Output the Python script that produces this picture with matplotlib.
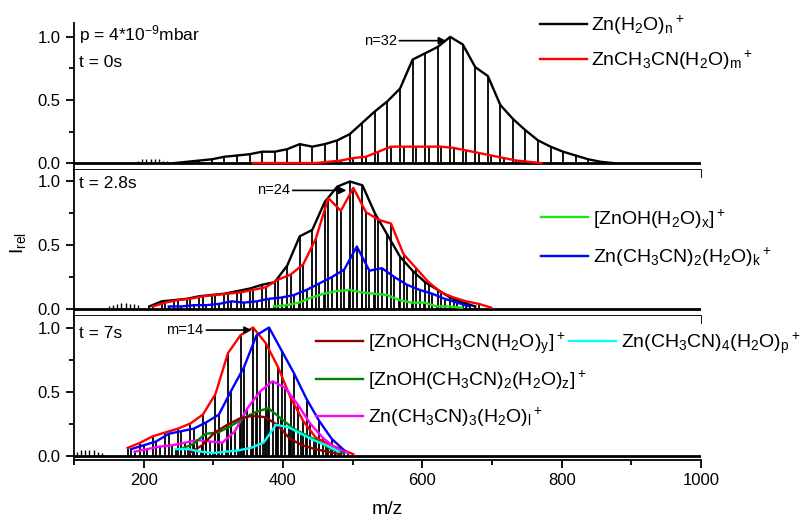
import numpy as np
import matplotlib
matplotlib.use('Agg')
import matplotlib.pyplot as plt
from matplotlib.ticker import MultipleLocator, FormatStrFormatter

plt.rcParams.update({'font.family': 'Liberation Sans', 'mathtext.default': 'regular',
                     'font.size': 12})

# t = 0 s : Zn(H2O)n+  (n = 10..45) and ZnCH3CN(H2O)m+ (m = 14..37)
top_k_mz = [244, 262, 280, 298, 316, 334, 352, 370, 388, 406, 424, 442, 460, 478, 496, 514,
            532, 550, 568, 586, 604, 622, 640, 658, 676, 694, 712, 730, 748, 766, 784, 802,
            820, 838, 856, 874]
top_k_int = [0.0, 0.01, 0.02, 0.03, 0.05, 0.06, 0.07, 0.09, 0.09, 0.11, 0.15, 0.13, 0.15, 0.18,
             0.23, 0.32, 0.41, 0.49, 0.59, 0.82, 0.87, 0.92, 1.0, 0.94, 0.76, 0.69, 0.46, 0.35,
             0.26, 0.18, 0.13, 0.09, 0.06, 0.03, 0.01, 0.0]
top_r_mz = [357, 375, 393, 411, 429, 447, 465, 483, 501, 519, 537, 555, 573, 591, 609, 627,
            645, 663, 681, 699, 717, 735, 753, 771]
top_r_int = [0.0, 0.0, 0.0, 0.0, 0.0, 0.0, 0.01, 0.02, 0.04, 0.05, 0.09, 0.13, 0.13, 0.13, 0.13,
             0.13, 0.12, 0.10, 0.08, 0.06, 0.04, 0.02, 0.01, 0.0]
top_noise_mz = [186, 192, 198, 204, 210, 216, 222, 228, 234, 240]
top_noise_int = [0.01, 0.02, 0.03, 0.03, 0.035, 0.03, 0.03, 0.02, 0.02, 0.01]

# t = 2.8 s
mid_k_mz = [208, 226, 244, 262, 280, 298, 316, 334, 352, 370, 388, 406, 424, 442, 460, 478,
            496, 514, 532, 550, 568, 586, 604, 622, 640, 658, 676]
mid_k_int = [0.02, 0.06, 0.07, 0.08, 0.10, 0.11, 0.12, 0.14, 0.16, 0.19, 0.21, 0.34, 0.57, 0.62,
             0.84, 0.96, 1.0, 0.97, 0.75, 0.58, 0.41, 0.30, 0.21, 0.15, 0.09, 0.05, 0.02]
mid_r_mz = [213, 231, 249, 267, 285, 303, 321, 339, 357, 375, 393, 411, 429, 447, 465, 483,
            501, 519, 537, 555, 573, 591, 609, 627, 645, 663, 681, 699]
mid_r_int = [0.02, 0.05, 0.07, 0.08, 0.10, 0.11, 0.12, 0.13, 0.15, 0.17, 0.23, 0.27, 0.35, 0.55,
             0.87, 0.77, 0.95, 0.76, 0.70, 0.67, 0.43, 0.32, 0.21, 0.13, 0.09, 0.06, 0.04, 0.01]
mid_b_mz = [236, 254, 272, 290, 308, 326, 344, 362, 380, 398, 416, 434, 452, 470, 488, 506,
            524, 542, 560, 578, 596, 614, 632, 650, 668]
mid_b_int = [0.02, 0.02, 0.03, 0.03, 0.04, 0.06, 0.05, 0.06, 0.08, 0.09, 0.11, 0.15, 0.20, 0.25,
             0.31, 0.49, 0.30, 0.32, 0.25, 0.19, 0.15, 0.12, 0.08, 0.05, 0.02]
mid_g_mz = [387, 405, 423, 441, 459, 477, 495, 513, 531, 549, 567, 585, 603, 621, 639, 657]
mid_g_int = [0.02, 0.03, 0.05, 0.09, 0.12, 0.14, 0.15, 0.13, 0.12, 0.11, 0.07, 0.05, 0.05, 0.02,
             0.02, 0.01]
mid_noise_mz = [150, 156, 162, 168, 174, 180, 186, 192]
mid_noise_int = [0.02, 0.03, 0.04, 0.05, 0.05, 0.04, 0.04, 0.03]

# t = 7 s
bot_r_mz = [177, 195, 213, 231, 249, 267, 285, 303, 321, 339, 357, 375, 393, 411, 429, 447,
            465, 483, 501]
bot_r_int = [0.06, 0.10, 0.15, 0.18, 0.21, 0.25, 0.32, 0.48, 0.80, 0.94, 1.0, 0.88, 0.69, 0.45,
             0.27, 0.14, 0.09, 0.05, 0.01]
bot_b_mz = [182, 200, 218, 236, 254, 272, 290, 308, 326, 344, 362, 380, 398, 416, 434, 452,
            470, 488]
bot_b_int = [0.05, 0.08, 0.11, 0.17, 0.19, 0.21, 0.26, 0.32, 0.51, 0.69, 0.94, 1.0, 0.82, 0.64,
             0.44, 0.27, 0.13, 0.04]
bot_m_mz = [187, 205, 223, 241, 259, 277, 295, 313, 331, 349, 367, 385, 403, 421, 439, 457,
            475, 493]
bot_m_int = [0.03, 0.05, 0.07, 0.08, 0.10, 0.12, 0.11, 0.10, 0.19, 0.37, 0.50, 0.58, 0.53, 0.40,
             0.25, 0.14, 0.06, 0.02]
bot_dg_mz = [253, 271, 289, 307, 325, 343, 361, 379, 397, 415, 433, 451, 469, 487]
bot_dg_int = [0.05, 0.09, 0.17, 0.18, 0.23, 0.29, 0.34, 0.37, 0.29, 0.21, 0.16, 0.11, 0.05, 0.02]
bot_dr_mz = [266, 284, 302, 320, 338, 356, 374, 392, 410, 428, 446, 464, 482]
bot_dr_int = [0.02, 0.08, 0.18, 0.24, 0.29, 0.31, 0.30, 0.24, 0.13, 0.08, 0.05, 0.03, 0.01]
bot_c_mz = [246, 264, 282, 300, 318, 336, 354, 372, 390, 408, 426, 444, 462, 480]
bot_c_int = [0.05, 0.05, 0.03, 0.02, 0.03, 0.04, 0.06, 0.10, 0.24, 0.22, 0.17, 0.12, 0.08, 0.03]
bot_noise_mz = [104, 110, 116, 122, 128, 134, 140]
bot_noise_int = [0.03, 0.04, 0.04, 0.04, 0.04, 0.03, 0.02]

lab_k = r'Zn(H$_2$O)$_n$$^+$'
lab_r = r'ZnCH$_3$CN(H$_2$O)$_m$$^+$'
lab_g = r'[ZnOH(H$_2$O)$_x$]$^+$'
lab_b = r'Zn(CH$_3$CN)$_2$(H$_2$O)$_k$$^+$'
lab_dr = r'[ZnOHCH$_3$CN(H$_2$O)$_y$]$^+$'
lab_dg = r'[ZnOH(CH$_3$CN)$_2$(H$_2$O)$_z$]$^+$'
lab_m = r'Zn(CH$_3$CN)$_3$(H$_2$O)$_l$$^+$'
lab_c = r'Zn(CH$_3$CN)$_4$(H$_2$O)$_p$$^+$'

GREEN = '#19e619'
LW = 1.7
LEG = dict(frameon=False, fontsize=14, handlelength=2.4, handletextpad=0.25,
           labelspacing=0.62, borderpad=0, borderaxespad=0, loc='upper left')

fig = plt.figure(figsize=(8.03, 5.22), dpi=100)
L, W = 74 / 803, 627 / 803
ax1 = fig.add_axes([L, 352 / 522, W, 147 / 522])
ax2 = fig.add_axes([L, 206 / 522, W, 146 / 522])
ax3 = fig.add_axes([L, 62 / 522, W, 144 / 522])


def style(ax, ylim):
    ax.set_xlim(100, 1000)
    ax.set_ylim(*ylim)
    ax.spines[['top', 'right']].set_visible(False)
    ax.spines[['left', 'bottom']].set_linewidth(1.3)
    ax.xaxis.set_major_locator(MultipleLocator(200))
    ax.xaxis.set_minor_locator(MultipleLocator(100))
    ax.yaxis.set_major_locator(MultipleLocator(0.5))
    ax.yaxis.set_minor_locator(MultipleLocator(0.25))
    ax.yaxis.set_major_formatter(FormatStrFormatter('%.1f'))
    ax.tick_params(which='major', length=6, width=1.3, direction='out', labelsize=12)
    ax.tick_params(which='minor', length=3.5, width=1.3, direction='out')
    ax.axhline(0, color='k', lw=2.0, zorder=1)


def draw(ax, noise_mz, noise_int, series):
    # spectrum sticks first, envelopes on top
    ax.vlines(noise_mz, 0, noise_int, colors='k', lw=1.0)
    for x, y, c in series:
        ax.vlines(x, 0, y, colors='k', lw=1.3, zorder=2)
    handles = []
    for x, y, c in series:
        h, = ax.plot(x, y, color=c, lw=LW, zorder=3)
        handles.append(h)
    return handles


def arrow(ax, label, tip, start, y):
    ax.annotate(label, xy=(tip, y), xytext=(start, y), ha='right', va='center',
                fontsize=10.5, arrowprops=dict(arrowstyle='-|>', color='k', lw=1.2,
                                                shrinkA=0, shrinkB=0))


# top panel
style(ax1, (-0.055, 1.11))
hk, hr = draw(ax1, top_noise_mz, top_noise_int,
              [(top_k_mz, top_k_int, 'k'), (top_r_mz, top_r_int, 'red')])
ax1.tick_params(labelbottom=False)
ax1.legend([hk, hr], [lab_k, lab_r], bbox_to_anchor=(0.743, 1.065), **LEG)
ax1.text(0.008, 0.88, r'p = 4*10$^{-9}$mbar', transform=ax1.transAxes, fontsize=12.5)
ax1.text(0.008, 0.70, 't = 0s', transform=ax1.transAxes, fontsize=12.5)
arrow(ax1, 'n=32', 634, 563, 0.97)

# middle panel
style(ax2, (-0.055, 1.09))
hk2, hr2, hb, hg = draw(ax2, mid_noise_mz, mid_noise_int,
                        [(mid_k_mz, mid_k_int, 'k'), (mid_r_mz, mid_r_int, 'red'),
                         (mid_b_mz, mid_b_int, 'blue'), (mid_g_mz, mid_g_int, GREEN)])
ax2.tick_params(labelbottom=False)
ax2.legend([hg, hb], [lab_g, lab_b], bbox_to_anchor=(0.745, 0.745),
           **{**LEG, 'labelspacing': 0.8})
ax2.text(0.008, 0.88, 't = 2.8s', transform=ax2.transAxes, fontsize=12.5)
arrow(ax2, 'n=24', 491, 410, 0.93)
ax2.set_ylabel(r'I$_{rel}$', fontsize=14, labelpad=7)

# bottom panel
style(ax3, (-0.035, 1.09))
hr3, hb3, hm, hdg, hdr, hc = draw(
    ax3, bot_noise_mz, bot_noise_int,
    [(bot_r_mz, bot_r_int, 'red'), (bot_b_mz, bot_b_int, 'blue'),
     (bot_m_mz, bot_m_int, 'magenta'), (bot_dg_mz, bot_dg_int, 'green'),
     (bot_dr_mz, bot_dr_int, 'darkred'), (bot_c_mz, bot_c_int, 'cyan')])
leg = ax3.legend([hdr, hdg, hm], [lab_dr, lab_dg, lab_m], bbox_to_anchor=(0.386, 0.9),
                 **{**LEG, 'labelspacing': 0.68})
ax3.add_artist(leg)
ax3.legend([hc], [lab_c], bbox_to_anchor=(0.790, 0.9), **LEG)
ax3.text(0.008, 0.85, 't = 7s', transform=ax3.transAxes, fontsize=12.5)
arrow(ax3, 'm=14', 355, 286, 0.98)
ax3.set_xlabel('m/z', fontsize=14, labelpad=9)

fig.savefig('out.png', dpi=100)
